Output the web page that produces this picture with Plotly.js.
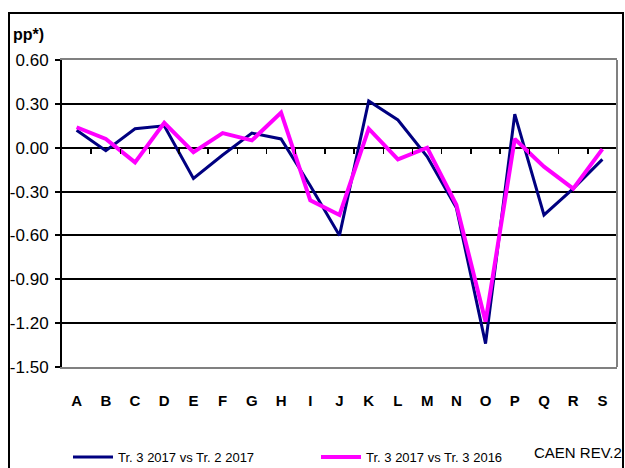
<!DOCTYPE html>
<html>
<head>
<meta charset="utf-8">
<script src="https://cdn.plot.ly/plotly-3.0.1.min.js"></script>
<style>
html,body{margin:0;padding:0;background:#fff;}
#chart{width:625px;height:468px;}
</style>
</head>
<body>
<div id="chart"></div>
<script>
var categories = ['A','B','C','D','E','F','G','H','I','J','K','L','M','N','O','P','Q','R','S'];
var seriesQoQ = [0.12, -0.02, 0.13, 0.15, -0.21, -0.05, 0.10, 0.06, -0.26, -0.60, 0.32, 0.19, -0.06, -0.41, -1.34, 0.23, -0.46, -0.28, -0.08];
var seriesYoY = [0.14, 0.06, -0.10, 0.17, -0.03, 0.10, 0.05, 0.24, -0.36, -0.46, 0.13, -0.08, 0.00, -0.39, -1.19, 0.06, -0.13, -0.28, -0.01];
var nameQoQ = 'Tr. 3 2017 vs Tr. 2 2017';
var nameYoY = 'Tr. 3 2017 vs Tr. 3 2016';
var yTickVals = [0.6, 0.3, 0, -0.3, -0.6, -0.9, -1.2, -1.5];
var yTickLabels = ['0.60', '0.30', '0.00', '-0.30', '-0.60', '-0.90', '-1.20', '-1.50'];
var unitLabel = 'pp*)';
var sourceLabel = 'CAEN REV.2';

var FONT = '"Liberation Sans", Arial, sans-serif';
var boundaries = categories.map(function(_, i){ return i + 0.5; });
var yMin = -1.5, yMax = 0.6;

var traces = [
  {x: categories, y: seriesQoQ, name: nameQoQ, type: 'scatter', mode: 'lines',
   line: {color: '#000080', width: 3}, legend: 'legend'},
  {x: categories, y: seriesYoY, name: nameYoY, type: 'scatter', mode: 'lines',
   line: {color: '#FF00FF', width: 4}, legend: 'legend2'},
  {x: [], y: [], xaxis: 'x2', type: 'scatter', mode: 'lines', showlegend: false, hoverinfo: 'skip'}
];

var legendBase = {
  orientation: 'h', xanchor: 'left', y: -0.293, yanchor: 'middle',
  itemwidth: 40,
  font: {family: FONT, size: 13, color: '#000'},
  bgcolor: 'rgba(0,0,0,0)', borderwidth: 0
};

var layout = {
  width: 625, height: 468,
  margin: {l: 62, r: 8, t: 60, b: 101, autoexpand: false},
  paper_bgcolor: '#fff', plot_bgcolor: '#fff',
  font: {family: FONT, color: '#000'},
  showlegend: true,
  xaxis: {
    type: 'category', range: [-0.5, categories.length - 0.5], automargin: false,
    showgrid: false, zeroline: false, ticks: '',
    showline: true, linecolor: '#808080', linewidth: 2, mirror: true,
    tickfont: {family: FONT, size: 15, weight: 'bold', color: '#000'},
    ticklabelstandoff: 19
  },
  xaxis2: {
    overlaying: 'x', anchor: 'free', position: (0 - yMin) / (yMax - yMin),
    range: [-0.5, categories.length - 0.5],
    tickvals: boundaries, ticks: 'outside', ticklen: 5, tickwidth: 1.5, tickcolor: '#000',
    showticklabels: false, showgrid: false, zeroline: false, showline: false
  },
  yaxis: {
    range: [yMin, yMax], tickvals: yTickVals, ticktext: yTickLabels, automargin: false,
    showgrid: true, gridcolor: '#000', gridwidth: 2, zeroline: false,
    showline: true, linecolor: '#000', linewidth: 2,
    ticks: 'outside', ticklen: 5, tickwidth: 2, tickcolor: '#000',
    tickfont: {family: FONT, size: 17, color: '#000'},
    ticklabelstandoff: 3
  },
  legend: Object.assign({}, legendBase, {x: (68 - 62) / 555}),
  legend2: Object.assign({}, legendBase, {x: (316 - 62) / 555}),
  shapes: [
    {type: 'line', xref: 'paper', yref: 'paper', x0: 1, x1: 1, y0: 0, y1: 1,
     line: {color: '#808080', width: 2}},
    {type: 'rect', xref: 'paper', yref: 'paper',
     x0: (9 - 62) / 555, x1: (623 - 62) / 555, y0: -0.4, y1: (367 - 13) / 307,
     line: {color: '#000', width: 2}, fillcolor: 'rgba(0,0,0,0)'}
  ],
  annotations: [
    {text: unitLabel, xref: 'paper', yref: 'paper', x: (11 - 62) / 555, y: (367 - 35) / 307,
     xanchor: 'left', yanchor: 'middle', showarrow: false,
     font: {family: FONT, size: 16, weight: 'bold', color: '#000'}},
    {text: sourceLabel, xref: 'paper', yref: 'paper', x: (532 - 62) / 555, y: (367 - 452) / 307,
     xanchor: 'left', yanchor: 'middle', showarrow: false,
     font: {family: FONT, size: 15, color: '#000'}}
  ]
};

Plotly.newPlot('chart', traces, layout, {displayModeBar: false, staticPlot: true});
</script>
</body>
</html>
